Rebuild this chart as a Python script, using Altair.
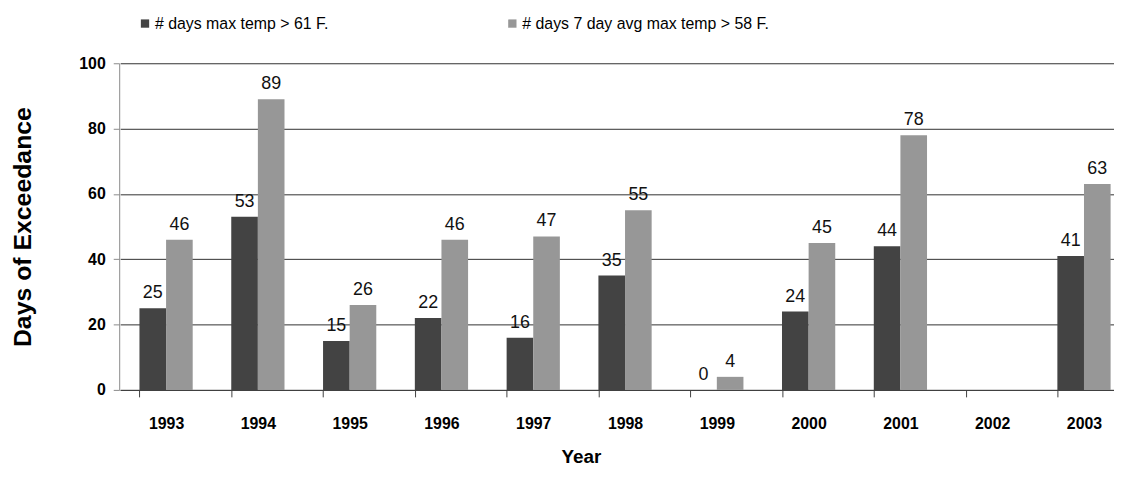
import altair as alt
import pandas as pd

years = ["1993", "1994", "1995", "1996", "1997", "1998", "1999", "2000", "2001", "2002", "2003"]
series_names = ["# days max temp > 61 F.", "# days 7 day avg max temp > 58 F."]
max_temp_days = [25, 53, 15, 22, 16, 35, 0, 24, 44, None, 41]
avg7_days = [46, 89, 26, 46, 47, 55, 4, 45, 78, None, 63]
colors = ["#434343", "#979797"]

rows = []
for y, a, b in zip(years, max_temp_days, avg7_days):
    if a is not None:
        rows.append({"Year": y, "Series": series_names[0], "Days": a})
    if b is not None:
        rows.append({"Year": y, "Series": series_names[1], "Days": b})
df = pd.DataFrame(rows)

FONT = "Liberation Sans"

x_enc = alt.X(
    "Year:N",
    scale=alt.Scale(domain=years, range=[1, 1018], paddingInner=0.42, paddingOuter=0.21),
    axis=alt.Axis(
        title="Year",
        titleX=465,
        labelAngle=0,
        labelFontWeight="bold",
        labelFontSize=16,
        labelPadding=19,
        bandPosition=0,
        tickSize=7,
        tickOffset=0,
        domainColor="#404040",
        tickColor="#404040",
        titleFontSize=19,
        titleFontWeight="bold",
        titlePadding=16,
        grid=False,
    ),
)
xoff = alt.XOffset("Series:N", scale=alt.Scale(domain=series_names))
y_enc = alt.Y(
    "Days:Q",
    scale=alt.Scale(domain=[0, 100]),
    axis=alt.Axis(
        title="Days of Exceedance",
        values=[0, 20, 40, 60, 80, 100],
        labelFontWeight="bold",
        labelFontSize=16,
        labelPadding=8,
        tickSize=6,
        domainColor="#8a8a8a",
        tickColor="#8a8a8a",
        gridColor="#303030",
        gridWidth=1,
        titleFontSize=25,
        titleFontWeight="bold",
        titlePadding=44,
    ),
)
color_enc = alt.Color(
    "Series:N",
    scale=alt.Scale(domain=series_names, range=colors),
    legend=alt.Legend(
        title=None,
        orient="none",
        direction="horizontal",
        legendX=18,
        legendY=-48,
        symbolType="square",
        symbolSize=70,
        symbolStrokeWidth=0,
        labelFontSize=16,
        labelOffset=2,
        labelLimit=0,
        columnPadding=177,
    ),
)

bars = alt.Chart(df).mark_bar(opacity=1).encode(x=x_enc, xOffset=xoff, y=y_enc, color=color_enc)
labels = alt.Chart(df).mark_text(dy=-15, fontSize=18, font=FONT, color="#111111").encode(
    x=x_enc, xOffset=xoff, y=y_enc, text="Days:Q"
)

chart = (
    alt.layer(bars, labels)
    .properties(
        width=1002,
        height=329,
        autosize=alt.AutoSizeParams(type="none"),
        padding={"left": 112, "top": 54, "right": 0, "bottom": 78},
    )
    .configure(font=FONT)
    .configure_view(strokeWidth=0)
    .configure_axis(labelColor="#000000", titleColor="#000000")
    .configure_legend(labelColor="#000000", labelFont=FONT)
)

chart.save("out.html", embed_options={"renderer": "svg", "actions": False})
